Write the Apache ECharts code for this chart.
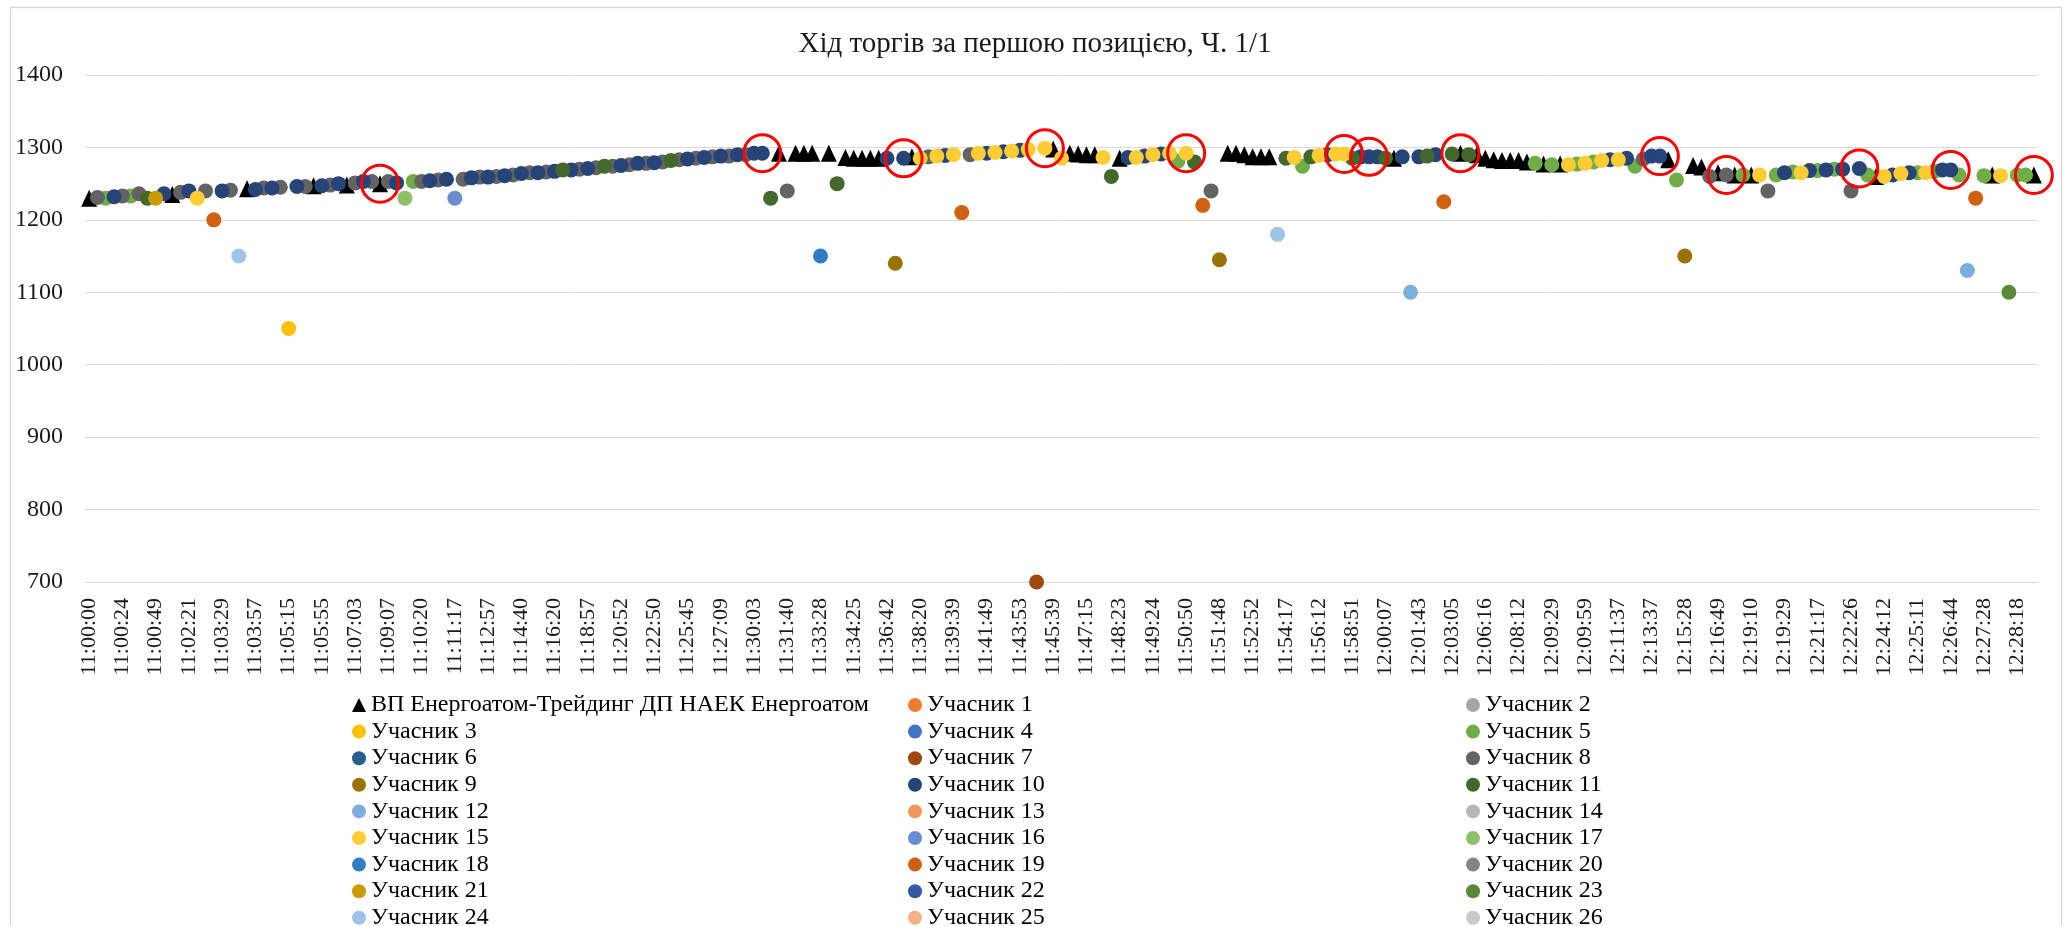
<!DOCTYPE html>
<html>
<head>
<meta charset="utf-8">
<script src="https://cdn.jsdelivr.net/npm/echarts@6/dist/echarts.min.js"></script>
<style>
  html, body { margin: 0; padding: 0; background: #fff; }
  #chart { width: 2070px; height: 926px; }
</style>
</head>
<body>
<div id="chart"></div>
<script>
// час заявки (підписано кожну 4-ту, решта - приблизно)
const times = [
  '11:00:00','11:00:06','11:00:12','11:00:18','11:00:24','11:00:30','11:00:37','11:00:43',
  '11:00:49','11:01:12','11:01:35','11:01:58','11:02:21','11:02:38','11:02:55','11:03:12',
  '11:03:29','11:03:36','11:03:43','11:03:50','11:03:57','11:04:16','11:04:36','11:04:55',
  '11:05:15','11:05:25','11:05:35','11:05:45','11:05:55','11:06:12','11:06:29','11:06:46',
  '11:07:03','11:07:34','11:08:05','11:08:36','11:09:07','11:09:25','11:09:43','11:10:02',
  '11:10:20','11:10:34','11:10:48','11:11:03','11:11:17','11:11:42','11:12:07','11:12:32',
  '11:12:57','11:13:23','11:13:48','11:14:14','11:14:40','11:15:05','11:15:30','11:15:55',
  '11:16:20','11:16:59','11:17:38','11:18:18','11:18:57','11:19:26','11:19:55','11:20:23',
  '11:20:52','11:21:21','11:21:51','11:22:20','11:22:50','11:23:34','11:24:17','11:25:01',
  '11:25:45','11:26:06','11:26:27','11:26:48','11:27:09','11:27:53','11:28:36','11:29:20',
  '11:30:03','11:30:27','11:30:51','11:31:16','11:31:40','11:32:07','11:32:34','11:33:01',
  '11:33:28','11:33:42','11:33:56','11:34:11','11:34:25','11:34:59','11:35:33','11:36:08',
  '11:36:42','11:37:06','11:37:31','11:37:55','11:38:20','11:38:40','11:38:59','11:39:19',
  '11:39:39','11:40:12','11:40:44','11:41:17','11:41:49','11:42:20','11:42:51','11:43:22',
  '11:43:53','11:44:20','11:44:46','11:45:13','11:45:39','11:46:03','11:46:27','11:46:51',
  '11:47:15','11:47:32','11:47:49','11:48:06','11:48:23','11:48:38','11:48:53','11:49:09',
  '11:49:24','11:49:46','11:50:07','11:50:29','11:50:50','11:51:04','11:51:19','11:51:33',
  '11:51:48','11:52:04','11:52:20','11:52:36','11:52:52','11:53:13','11:53:34','11:53:56',
  '11:54:17','11:54:46','11:55:15','11:55:43','11:56:12','11:56:52','11:57:31','11:58:11',
  '11:58:51','11:59:10','11:59:29','11:59:48','12:00:07','12:00:31','12:00:55','12:01:19',
  '12:01:43','12:02:04','12:02:24','12:02:45','12:03:05','12:03:53','12:04:40','12:05:28',
  '12:06:16','12:06:45','12:07:14','12:07:43','12:08:12','12:08:31','12:08:50','12:09:10',
  '12:09:29','12:09:37','12:09:44','12:09:52','12:09:59','12:10:24','12:10:48','12:11:13',
  '12:11:37','12:12:07','12:12:37','12:13:07','12:13:37','12:14:05','12:14:33','12:15:00',
  '12:15:28','12:15:48','12:16:08','12:16:29','12:16:49','12:17:24','12:18:00','12:18:35',
  '12:19:10','12:19:15','12:19:20','12:19:24','12:19:29','12:19:56','12:20:23','12:20:50',
  '12:21:17','12:21:34','12:21:52','12:22:09','12:22:26','12:22:52','12:23:19','12:23:45',
  '12:24:12','12:24:27','12:24:41','12:24:56','12:25:11','12:25:34','12:25:58','12:26:21',
  '12:26:44','12:26:55','12:27:06','12:27:17','12:27:28','12:27:40','12:27:53','12:28:05',
  '12:28:18','12:28:31','12:28:44'
];

// хто подав заявку: 0 - ВП Енергоатом-Трейдинг, інакше номер учасника
const bidder = [
  0, 8, 5,10, 8, 5, 8,11,21,10,   0, 8,10,15, 8,19,10, 8,24, 0,
 10, 8,10, 8, 3,10, 8, 0,10, 8,  10, 0, 8,10, 8, 0, 8,10,17, 5,
  8,10, 8,10,16, 8,10, 8,10, 8,  10, 8,10, 8,10, 8,10,11,10, 8,
 10, 8,11, 8,10, 8,10, 8,10, 8,  11, 8,10, 8,10, 8,10, 8,10, 8,
 10,10,11, 0, 8, 0, 0, 0,18, 0,  11, 0, 0, 0, 0, 0,10, 9,10, 0,
 15, 8,15,10,15,19, 8,15,10,15,  10,15,10,15, 7,15, 0,15, 0, 0,
  0, 0,15,11, 0,10,15,10,15,10,  15, 5,15,11,19, 8, 9, 0, 0, 0,
  0, 0, 0,24,11,15, 5,11,15,10,  15,15,11,10,10,10,11, 0,10,12,
 10,11,10,19,11, 0,11, 0, 0, 0,   0, 0, 0, 0, 5, 0, 5, 0,15, 5,
 15, 5,15,10,15,10, 5, 8,10,10,   0, 5, 9, 0, 0, 8, 0, 8, 0, 5,
  0,15, 8, 5,10, 5,15,10, 5,10,   5,10, 8,10, 5, 0,15,10,15,10,
  5,15, 5,10,10, 5,12,19, 5, 0,  15,23, 5, 5, 0
];

// ціна заявки
const price = [
  1230,1231,1230,1232,1233,1233,1236,1230,1230,1236,
  1235,1238,1240,1230,1240,1200,1240,1241,1150,1243,
  1242,1244,1244,1245,1050,1246,1246,1247,1247,1248,
  1250,1248,1251,1253,1253,1250,1253,1251,1230,1253,
  1253,1254,1255,1256,1230,1256,1258,1259,1259,1260,
  1261,1262,1264,1265,1265,1266,1267,1269,1269,1270,
  1271,1272,1274,1274,1275,1276,1278,1278,1279,1280,
  1282,1283,1284,1285,1286,1287,1288,1288,1290,1290,
  1292,1292,1230,1292,1240,1292,1292,1292,1150,1292,
  1250,1286,1285,1285,1285,1285,1285,1140,1285,1287,
  1285,1287,1288,1289,1290,1210,1290,1292,1292,1293,
  1294,1295,1296,1297, 700,1299,1298,1285,1292,1291,
  1290,1290,1286,1260,1285,1286,1286,1288,1290,1291,
  1292,1281,1292,1280,1220,1240,1145,1292,1292,1290,
  1287,1287,1287,1180,1285,1286,1274,1287,1289,1290,
  1291,1291,1285,1287,1287,1287,1285,1285,1287,1100,
  1287,1288,1290,1225,1291,1292,1290,1290,1285,1283,
  1282,1282,1282,1280,1278,1277,1276,1277,1276,1277,
  1278,1280,1282,1283,1283,1285,1274,1284,1288,1288,
  1283,1255,1150,1275,1273,1260,1265,1262,1262,1262,
  1262,1262,1240,1262,1265,1266,1265,1268,1268,1269,
  1270,1270,1240,1271,1262,1260,1260,1262,1264,1265,
  1265,1265,1267,1269,1269,1262,1130,1230,1261,1262,
  1261,1100,1262,1262,1262
];

// заявки, обведені червоним
const circled = [35, 81, 98, 115, 132, 151, 154, 165, 189, 197, 213, 224, 234];

const sellerName = 'ВП Енергоатом-Трейдинг ДП НАЕК Енергоатом';
const participantColors = [
  '#ED7D31', '#A5A5A5', '#FFC000', '#4472C4', '#70AD47', '#255E91',
  '#9E480E', '#636363', '#997300', '#264478', '#43682B', '#7CAFDD',
  '#F1975A', '#B7B7B7', '#FFCD33', '#698ED0', '#8CC168', '#327DC2',
  '#D26012', '#848484', '#CC9A00', '#335AA1', '#5A8A39', '#9DC3E6',
  '#F4B183', '#C9C9C9'
];
const participantNames = participantColors.map((c, k) => 'Учасник ' + (k + 1));

const serif = "'Liberation Serif', 'Times New Roman', serif";

const chart = echarts.init(document.getElementById('chart'));

const sellerSeries = {
  name: sellerName,
  type: 'scatter',
  symbol: 'triangle',
  symbolSize: [16, 17],
  itemStyle: { color: '#000', opacity: 1 },
  data: bidder.map((b, i) => (b === 0 ? price[i] : '-'))
};

const bidSeries = participantNames.map((name, k) => ({
  name,
  type: 'scatter',
  symbol: 'circle',
  symbolSize: 15,
  itemStyle: { color: participantColors[k], opacity: 1 },
  data: bidder.map((b, i) => (b === k + 1 ? price[i] : '-'))
}));

const ringSeries = {
  type: 'scatter',
  symbol: 'circle',
  symbolSize: 37,
  silent: true,
  itemStyle: { color: 'rgba(0,0,0,0)', borderColor: '#FF0000', borderWidth: 3, opacity: 1 },
  data: circled.map(i => [i, price[i]])
};

// легенда у три колонки
const col1 = [sellerName].concat([3, 6, 9, 12, 15, 18, 21, 24].map(n => 'Учасник ' + n));
const col2 = [1, 4, 7, 10, 13, 16, 19, 22, 25].map(n => 'Учасник ' + n);
const col3 = [2, 5, 8, 11, 14, 17, 20, 23, 26].map(n => 'Учасник ' + n);
const legendBase = {
  orient: 'vertical',
  top: 688,
  height: 400,
  itemWidth: 14,
  itemHeight: 14,
  itemGap: 2.6,
  selectedMode: false,
  textStyle: { fontFamily: serif, fontSize: 24, color: '#000' }
};

chart.setOption({
  animation: false,
  backgroundColor: '#fff',
  title: {
    text: 'Хід торгів за першою позицією, Ч. 1/1',
    left: 'center',
    top: 25,
    textStyle: { fontFamily: serif, fontSize: 29, fontWeight: 'normal', color: '#1a1a1a' }
  },
  graphic: [{
    type: 'rect',
    silent: true,
    z: -1,
    shape: { x: 10.5, y: 7.5, width: 2051, height: 1000 },
    style: { fill: 'none', stroke: '#d9d9d9', lineWidth: 1.5 }
  }],
  legend: [
    Object.assign({}, legendBase, { left: 347, data: col1 }),
    Object.assign({}, legendBase, { left: 903, data: col2 }),
    Object.assign({}, legendBase, { left: 1461, data: col3 })
  ],
  grid: { left: 85, right: 32, top: 75, bottom: 344 },
  xAxis: {
    type: 'category',
    data: times,
    boundaryGap: true,
    axisTick: { show: false },
    axisLine: { lineStyle: { color: '#d9d9d9', width: 1 } },
    axisLabel: {
      interval: 3,
      rotate: 90,
      margin: 16,
      fontFamily: serif,
      fontSize: 22,
      color: '#1a1a1a'
    },
    splitLine: { show: false }
  },
  yAxis: {
    type: 'value',
    min: 700,
    max: 1400,
    interval: 100,
    axisLine: { show: false },
    axisTick: { show: false },
    axisLabel: {
      fontFamily: serif,
      fontSize: 24,
      color: '#1a1a1a',
      margin: 22,
      formatter: v => String(v)
    },
    splitLine: { lineStyle: { color: '#d9d9d9', width: 1 } }
  },
  series: [sellerSeries].concat(bidSeries, [ringSeries])
});
</script>
</body>
</html>
